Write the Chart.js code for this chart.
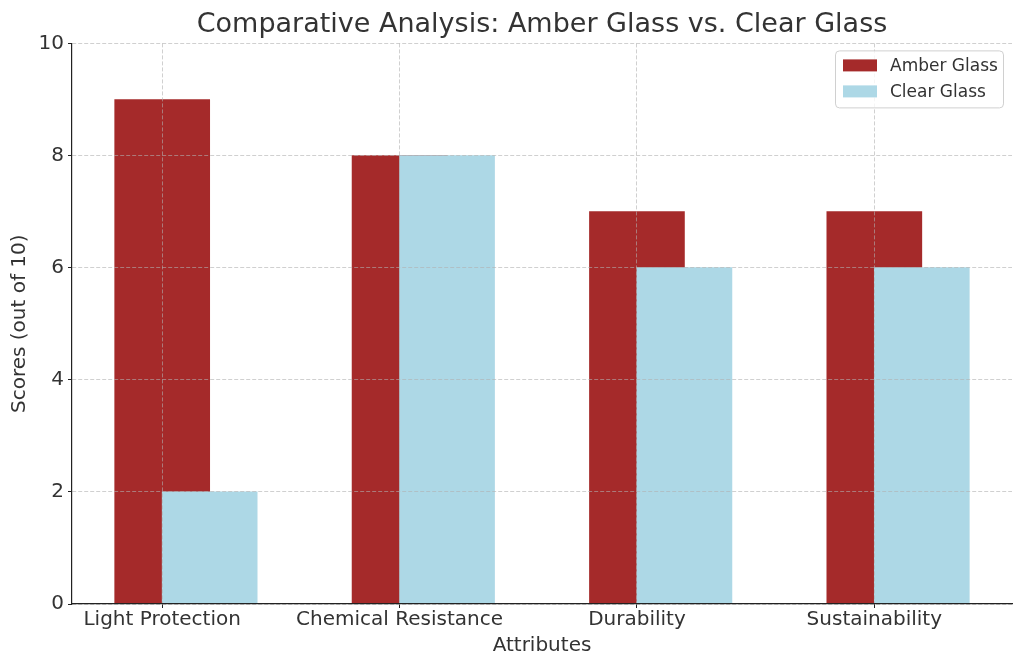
<!DOCTYPE html>
<html>
<head>
<meta charset="utf-8">
<script src="https://cdn.jsdelivr.net/npm/chart.js@4"></script>
<style>
  html, body { margin: 0; padding: 0; background: #fff; }
  #wrap { width: 1024px; height: 669px; }
</style>
</head>
<body>
<div id="wrap"><canvas id="chart"></canvas></div>
<script>
const categories = ["Light Protection", "Chemical Resistance", "Durability", "Sustainability"];
const amberScores = [9, 8, 7, 7];
const clearScores = [2, 8, 6, 6];
const yTicks = [0, 2, 4, 6, 8, 10];
const seriesNames = ["Amber Glass", "Clear Glass"];
const seriesColors = ["#a52a2a", "#add8e6"];

const FONT = "'DejaVu Sans', sans-serif";
const TEXT = "#333";
const GRID = "rgba(176,176,176,0.6)";

// legend drawn inside the plot, top right, like matplotlib
const innerLegend = {
    id: "innerLegend",
    afterDraw(chart) {
        const ctx = chart.ctx;
        const area = chart.chartArea;
        const w = 168, h = 57;
        const x = area.right - 9 - w, y = area.top + 7;
        ctx.save();
        ctx.fillStyle = "rgba(255,255,255,0.8)";
        ctx.strokeStyle = "#d0d0d0";
        ctx.lineWidth = 1;
        ctx.beginPath();
        ctx.roundRect(x + 0.5, y + 0.5, w, h, 4);
        ctx.fill();
        ctx.stroke();
        ctx.font = "17px " + FONT;
        ctx.textBaseline = "middle";
        seriesNames.forEach((name, i) => {
            const cy = y + 15 + i * 26;
            ctx.fillStyle = seriesColors[i];
            ctx.fillRect(x + 8, cy - 6, 34, 12);
            ctx.fillStyle = TEXT;
            ctx.fillText(name, x + 55, cy + 1);
        });
        ctx.restore();
    }
};

const chart = new Chart(document.getElementById("chart"), {
    type: "bar",
    data: {
        datasets: [
            {
                label: seriesNames[0],
                data: amberScores.map((v, i) => ({ x: i, y: v })),
                backgroundColor: seriesColors[0],
                order: 2
            },
            {
                label: seriesNames[1],
                data: clearScores.map((v, i) => ({ x: i + 0.2, y: v })),
                backgroundColor: seriesColors[1],
                order: 1
            }
        ]
    },
    options: {
        responsive: true,
        maintainAspectRatio: false,
        animation: false,
        layout: { padding: { left: 0, right: 12, top: 0, bottom: 0 } },
        datasets: { bar: { grouped: false, barThickness: 95 } },
        plugins: {
            legend: { display: false },
            tooltip: { enabled: false },
            title: {
                display: true,
                fullSize: false,
                text: "Comparative Analysis: Amber Glass vs. Clear Glass",
                color: TEXT,
                font: { family: FONT, size: 27, weight: "normal", lineHeight: 1.2 },
                padding: { top: 9, bottom: 2 }
            }
        },
        scales: {
            x: {
                type: "linear",
                offset: false,
                min: -0.38,
                max: 3.58,
                afterBuildTicks(scale) {
                    scale.ticks = categories.map((c, i) => ({ value: i }));
                },
                afterFit(scale) { scale.height = 65; },
                ticks: {
                    callback: (v) => categories[v],
                    color: TEXT,
                    font: { family: FONT, size: 20 },
                    padding: 0,
                    maxRotation: 0,
                    autoSkip: false
                },
                grid: {
                    z: 1,
                    offset: false,
                    color: GRID,
                    tickColor: "#222",
                    tickLength: 4
                },
                border: { display: true, z: 2, color: "#222", width: 1.2, dash: [4, 2] },
                title: {
                    display: true,
                    text: "Attributes",
                    color: TEXT,
                    font: { family: FONT, size: 20 },
                    padding: { top: 0, bottom: 11 }
                }
            },
            y: {
                min: 0,
                max: 10,
                afterBuildTicks(scale) {
                    scale.ticks = yTicks.map(v => ({ value: v }));
                },
                afterFit(scale) { scale.width = 72; },
                ticks: {
                    color: TEXT,
                    font: { family: FONT, size: 20 },
                    padding: 4
                },
                grid: {
                    z: 1,
                    color: GRID,
                    tickColor: "#222",
                    tickLength: 4
                },
                border: { display: true, z: 2, color: "#222", width: 1.2, dash: [4, 2] },
                title: {
                    display: true,
                    text: "Scores (out of 10)",
                    color: TEXT,
                    font: { family: FONT, size: 20 },
                    padding: { top: 8, bottom: 0 }
                }
            }
        }
    },
    plugins: [innerLegend]
});
</script>
</body>
</html>
